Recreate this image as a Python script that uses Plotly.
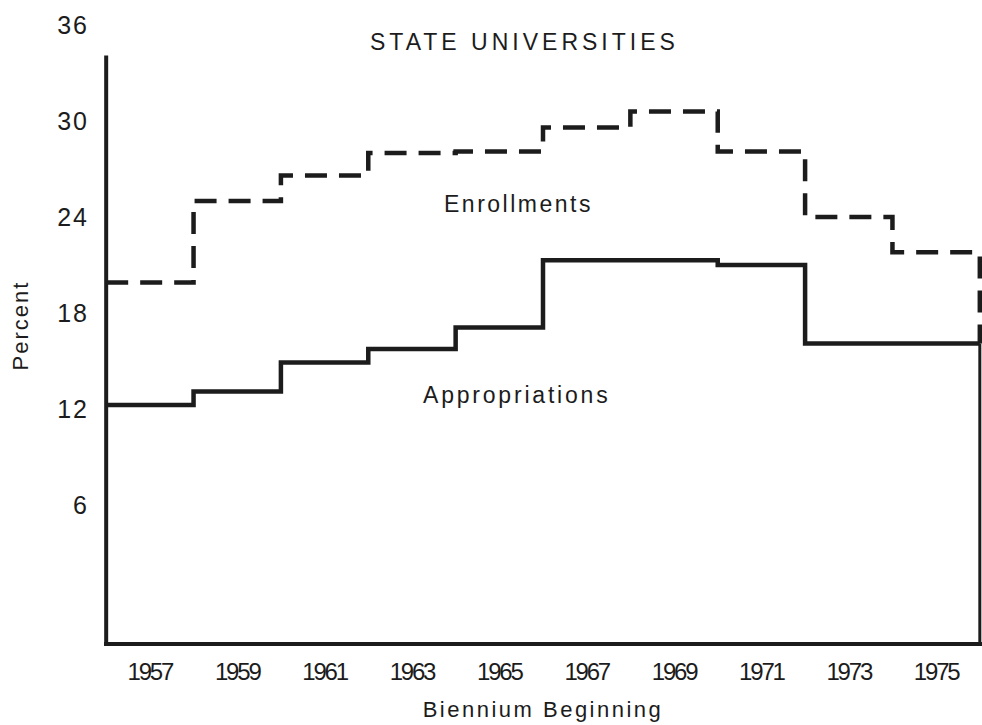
import plotly.graph_objects as go

# biennium start years, one step per biennium
biennium_start = [1956, 1958, 1960, 1962, 1964, 1966, 1968, 1970, 1972, 1974]
biennium_end = 1976

# percent
enrollments = [19.9, 25.0, 26.6, 28.0, 28.1, 29.6, 30.6, 28.1, 24.0, 21.8]
appropriations = [12.25, 13.1, 14.9, 15.75, 17.1, 21.3, 21.3, 21.0, 16.1, 16.1]

x_ticks = [1957, 1959, 1961, 1963, 1965, 1967, 1969, 1971, 1973, 1975]
y_ticks = [6, 12, 18, 24, 30, 36]

INK = "#1c1c1c"
Y_MIN, Y_MAX = -2.56, 37.0
AXIS_TOP = 34.1
SANS = "Liberation Sans, Arial, sans-serif"


def spaced(text, px):
    return f'<span style="letter-spacing:{px}px">{text}</span>'


step_x = biennium_start + [biennium_end]

fig = go.Figure()
fig.add_trace(
    go.Scatter(
        x=step_x + [biennium_end],
        y=enrollments + [enrollments[-1], appropriations[-1]],
        mode="lines",
        line=dict(color=INK, width=4.5, dash="22px,12px", shape="hv"),
        name="Enrollments",
    )
)
fig.add_trace(
    go.Scatter(
        x=step_x,
        y=appropriations + [appropriations[-1]],
        mode="lines",
        line=dict(color=INK, width=4.5, shape="hv"),
        name="Appropriations",
    )
)

# left axis line stops short of the 36 label; right edge closes the box
fig.add_shape(type="line", xref="x", yref="y", x0=biennium_start[0], x1=biennium_start[0],
              y0=Y_MIN, y1=AXIS_TOP, line=dict(color=INK, width=4))
fig.add_shape(type="line", xref="x", yref="y", x0=biennium_end, x1=biennium_end,
              y0=Y_MIN, y1=appropriations[-1], line=dict(color=INK, width=3))

label_font = dict(family=SANS, size=23, color=INK)
fig.add_annotation(x=0.479, y=0.948, xref="paper", yref="paper", yanchor="middle",
                   text=spaced("STATE UNIVERSITIES", 4), showarrow=False, font=label_font)
fig.add_annotation(x=1965.45, y=24.8, text=spaced("Enrollments", 2.5), showarrow=False, font=label_font)
fig.add_annotation(x=1965.4, y=12.9, text=spaced("Appropriations", 2.8), showarrow=False, font=label_font)

fig.update_xaxes(
    range=[1955.95, 1976.05],
    tickvals=x_ticks,
    ticktext=[spaced(str(v), -2.2) for v in x_ticks],
    tickfont=dict(family=SANS, size=24, color=INK),
    ticks="outside", ticklen=5, tickcolor="rgba(0,0,0,0)",
    showline=True, linecolor=INK, linewidth=4,
    showgrid=False, zeroline=False,
    title=dict(text=spaced("Biennium Beginning", 2.5), standoff=19,
               font=dict(family=SANS, size=22, color=INK)),
)
fig.update_yaxes(
    range=[Y_MIN, Y_MAX],
    tickvals=y_ticks,
    ticktext=[spaced(str(v), 2) for v in y_ticks],
    tickfont=dict(family=SANS, size=25, color=INK),
    ticks="outside", ticklen=9, tickcolor="rgba(0,0,0,0)",
    showline=False, showgrid=False, zeroline=False,
    title=dict(text=spaced("Percent", 2), standoff=22,
               font=dict(family=SANS, size=22, color=INK)),
)
fig.update_layout(
    width=982,
    height=725,
    margin=dict(l=104, r=0, t=9, b=83),
    plot_bgcolor="white",
    paper_bgcolor="white",
    showlegend=False,
)
fig.write_html("out.html", config={"displayModeBar": False},
               post_script="document.body.style.margin='0';")
